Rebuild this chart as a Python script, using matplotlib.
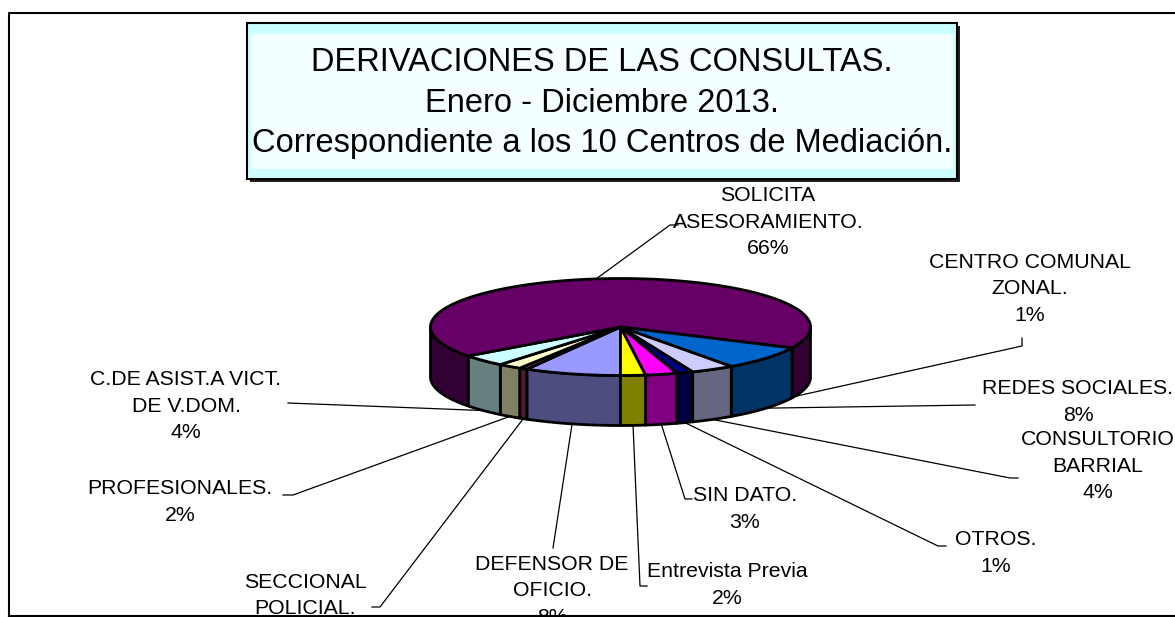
import numpy as np
import matplotlib.pyplot as plt
import matplotlib.colors as mcolors
from matplotlib.patches import Polygon, Rectangle

plt.rcParams['font.family'] = ['Liberation Sans', 'DejaVu Sans']

# data (clockwise from the front of the pie)
categories = ['DEFENSOR DE\nOFICIO.', 'SECCIONAL\nPOLICIAL.', 'PROFESIONALES.',
              'C.DE ASIST.A VICT.\nDE V.DOM.', 'SOLICITA\nASESORAMIENTO.',
              'CENTRO COMUNAL\nZONAL.', 'REDES SOCIALES.', 'CONSULTORIO\nBARRIAL',
              'OTROS.', 'SIN DATO.', 'Entrevista Previa']
values = [8.2, 0.7, 2.0, 3.9, 66.3, 1.0, 8.0, 3.7, 1.4, 2.7, 2.1]
colors = ['#9999FF', '#993366', '#FFFFCC', '#CCFFFF', '#660066', '#660066',
          '#0066CC', '#CCCCFF', '#000080', '#FF00FF', '#FFFF00']
title_lines = ['DERIVACIONES DE LAS CONSULTAS.', 'Enero - Diciembre 2013.',
               'Correspondiente a los 10 Centros de Mediación.']

# layout (pixel coords, y down)
label_pos = [(552, 591), (305, 609), (180, 502), (186, 406), (768, 222),
             (1030, 289), (1078, 402), (1098, 466), (996, 553), (745, 509), (727, 585)]
leader_end = [[(553, 548)], [(380, 607), (372, 607)], [(293, 495), (283, 495)],
              [(288, 403)], [(670, 225), (678, 225)], [(1022, 346), (1022, 338)],
              [(975, 405)], [(1010, 478), (1018, 478)], [(938, 546), (946, 546)],
              [(685, 499), (692, 499)], [(640, 586), (647, 586)]]

W, H = 1175, 617
fig = plt.figure(figsize=(W / 100, H / 100), dpi=100)
ax = fig.add_axes([0, 0, 1, 1])
ax.set_xlim(0, W)
ax.set_ylim(H, 0)
ax.axis('off')

cx, cy, a, b, depth = 620.5, 327, 190, 48.5, 50


def pt(t, dz=0):
    r = np.radians(t)
    return (cx + a * np.sin(r), cy - b * np.cos(r) + dz)


def darker(c):
    return tuple(v * 0.5 for v in mcolors.to_rgb(c))


fracs = np.array(values) / sum(values)
edges = 180 + 360 * np.concatenate([[0], np.cumsum(fracs)])

# join neighbours with the same colour
groups = []
for i, c in enumerate(colors):
    if groups and groups[-1][2] == c:
        groups[-1][1] = edges[i + 1]
    else:
        groups.append([edges[i], edges[i + 1], c])

# side walls
for t0, t1, c in groups:
    for v0, v1 in [(180, 270), (450, 540)]:
        s, e = max(t0, v0), min(t1, v1)
        if e > s:
            ts = np.linspace(s, e, 80)
            poly = [pt(t) for t in ts] + [pt(t, depth) for t in ts[::-1]]
            ax.add_patch(Polygon(poly, closed=True, fc=darker(c), ec='black',
                                 lw=2, joinstyle='round', zorder=2))

# top faces
for t0, t1, c in groups:
    ts = np.linspace(t0, t1, max(int((t1 - t0) * 2), 4))
    poly = [(cx, cy)] + [pt(t) for t in ts]
    ax.add_patch(Polygon(poly, closed=True, fc=c, ec='black', lw=2,
                         joinstyle='round', zorder=3))

# labels and leader lines
for i, name in enumerate(categories):
    mid = (edges[i] + edges[i + 1]) / 2
    front = np.cos(np.radians(mid)) < 0
    p0 = pt(mid, depth if front else 0)
    line = [p0] + leader_end[i]
    xs, ys = zip(*line)
    ax.plot(xs, ys, color='black', lw=0.9, zorder=4)
    pct = round(fracs[i] * 100)
    ax.text(label_pos[i][0], label_pos[i][1], f'{name}\n{pct}%', ha='center',
            va='center', fontsize=15.3, linespacing=1.5, zorder=5)

# title box
bx0, by0, bx1, by1 = 247, 23, 957, 179
ax.add_patch(Rectangle((bx0 + 3, by0 + 3), bx1 - bx0, by1 - by0, fc='#202020',
                       ec='none', zorder=5))
ax.add_patch(Rectangle((bx0, by0), bx1 - bx0, by1 - by0, fc='#CCFFFF',
                       ec='none', zorder=6))
ax.add_patch(Rectangle((bx0 + 4, by0 + 11), bx1 - bx0 - 8, by1 - by0 - 21,
                       fc='#F4FFFF', ec='none', zorder=6))
ax.add_patch(Rectangle((bx0, by0), bx1 - bx0, by1 - by0, fc='none',
                       ec='black', lw=1.5, zorder=7))
ax.text((bx0 + bx1) / 2, (by0 + by1) / 2 + 2, '\n'.join(title_lines),
        ha='center', va='center', fontsize=23.5, linespacing=1.38, zorder=8)

# chart border
ax.plot([9, 9, W], [616, 13, 13], color='black', lw=1.5, zorder=9)
ax.plot([9, W], [616, 616], color='black', lw=1.5, zorder=9)

fig.savefig('out.png', dpi=100)
